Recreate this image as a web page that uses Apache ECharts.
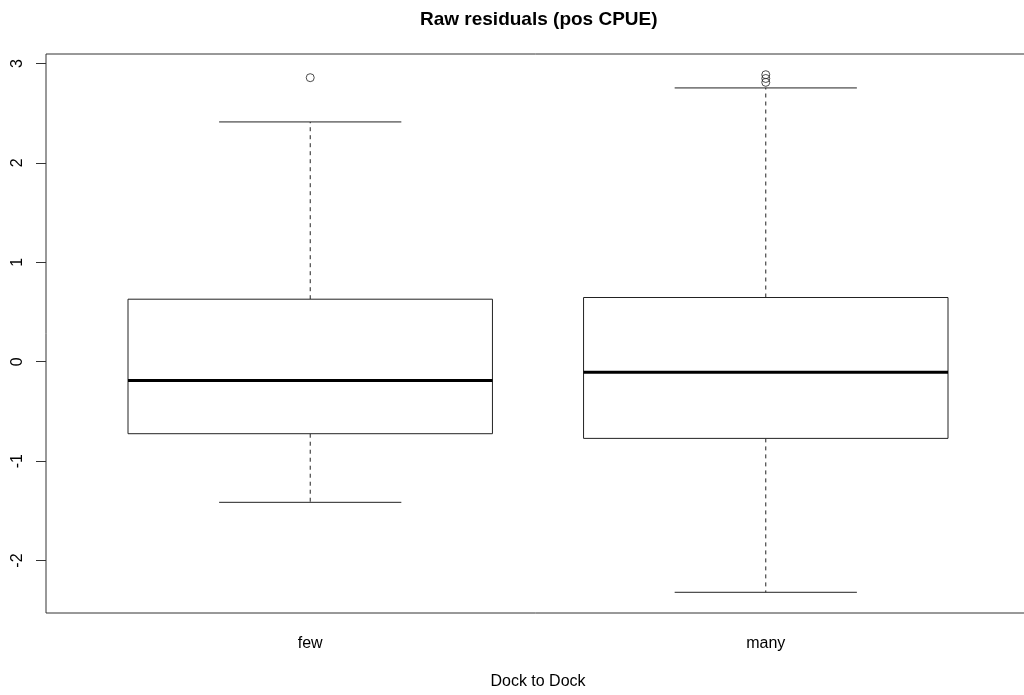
<!DOCTYPE html>
<html>
<head>
<meta charset="utf-8">
<script src="https://cdn.jsdelivr.net/npm/echarts@6/dist/echarts.min.js"></script>
<style>html,body{margin:0;padding:0;background:#fff}#c{width:1024px;height:695px}</style>
</head>
<body>
<div id="c"></div>
<script>
const categories = ['few', 'many'];
const lowerWhisker = [-1.414, -2.319];
const q1 = [-0.724, -0.771];
const median = [-0.188, -0.107];
const q3 = [0.629, 0.646];
const upperWhisker = [2.412, 2.754];
const outliersFew = [2.857];
const outliersMany = [2.887, 2.849, 2.81];
const yTicks = [-2, -1, 0, 1, 2, 3];

const outlierData = [];
outliersFew.forEach(v => outlierData.push([1, v]));
outliersMany.forEach(v => outlierData.push([2, v]));

const boxData = categories.map((c, i) => [i + 1, lowerWhisker[i], q1[i], median[i], q3[i], upperWhisker[i]]);

// R-style 4% axis extension
const allY = lowerWhisker.concat(upperWhisker, outlierData.map(d => d[1]));
const yMinD = Math.min(...allY), yMaxD = Math.max(...allY);
const yPad = (yMaxD - yMinD) * 0.04;
const xMinD = 0.5, xMaxD = categories.length + 0.5;
const xPad = (xMaxD - xMinD) * 0.04;

const FONT = 'Liberation Sans, Arial, sans-serif';
const chart = echarts.init(document.getElementById('c'));

function renderItem(params, api) {
  const x = api.value(0);
  const lw = api.coord([x, api.value(1)]);
  const b1 = api.coord([x, api.value(2)]);
  const md = api.coord([x, api.value(3)]);
  const b3 = api.coord([x, api.value(4)]);
  const uw = api.coord([x, api.value(5)]);
  const boxW = api.size([0.8, 0])[0];
  const capW = api.size([0.4, 0])[0];
  const cx = lw[0];
  const stroke = '#222';
  return {
    type: 'group',
    children: [
      { type: 'line', shape: { x1: cx, y1: b3[1], x2: cx, y2: uw[1] }, style: { stroke: stroke, lineWidth: 1, lineDash: [4, 4] } },
      { type: 'line', shape: { x1: cx, y1: b1[1], x2: cx, y2: lw[1] }, style: { stroke: stroke, lineWidth: 1, lineDash: [4, 4] } },
      { type: 'line', shape: { x1: cx - capW / 2, y1: uw[1], x2: cx + capW / 2, y2: uw[1] }, style: { stroke: stroke, lineWidth: 1 } },
      { type: 'line', shape: { x1: cx - capW / 2, y1: lw[1], x2: cx + capW / 2, y2: lw[1] }, style: { stroke: stroke, lineWidth: 1 } },
      { type: 'rect', shape: { x: cx - boxW / 2, y: b3[1], width: boxW, height: b1[1] - b3[1] }, style: { fill: '#fff', stroke: stroke, lineWidth: 1 } },
      { type: 'line', shape: { x1: cx - boxW / 2, y1: md[1], x2: cx + boxW / 2, y2: md[1] }, style: { stroke: '#000', lineWidth: 3 } }
    ]
  };
}

chart.setOption({
  animation: false,
  backgroundColor: '#fff',
  title: {
    text: 'Raw residuals (pos CPUE)',
    left: 415, top: 5,
    textStyle: { fontFamily: FONT, fontSize: 19, fontWeight: 'bold', color: '#000' }
  },
  grid: {
    left: 46, right: -6, top: 54, bottom: 82,
    outerBoundsMode: 'none', containLabel: false,
    show: true, borderColor: '#333', borderWidth: 1, backgroundColor: 'transparent'
  },
  xAxis: {
    type: 'value',
    min: xMinD - xPad, max: xMaxD + xPad,
    name: 'Dock to Dock', nameLocation: 'middle', nameGap: 61,
    nameTextStyle: { fontFamily: FONT, fontSize: 16, color: '#000' },
    splitLine: { show: false },
    axisLine: { show: false },
    axisTick: { show: true, length: 9, lineStyle: { color: '#333' }, customValues: categories.map((c, i) => i + 1) },
    axisLabel: {
      show: true, margin: 23, fontFamily: FONT, fontSize: 16, color: '#000',
      customValues: categories.map((c, i) => i + 1),
      formatter: v => categories[Math.round(v) - 1] || ''
    }
  },
  yAxis: {
    type: 'value',
    min: yMinD - yPad, max: yMaxD + yPad,
    splitLine: { show: false },
    axisLine: { show: false },
    axisTick: { show: true, length: 10, lineStyle: { color: '#333' }, customValues: yTicks },
    axisLabel: {
      show: true, margin: 20, rotate: 90, fontFamily: FONT, fontSize: 16, color: '#000',
      customValues: yTicks, formatter: v => String(v)
    }
  },
  series: [
    {
      type: 'custom',
      renderItem: renderItem,
      encode: { x: 0, y: [1, 2, 3, 4, 5] },
      data: boxData,
      z: 2
    },
    {
      type: 'scatter',
      data: outlierData,
      symbol: 'circle',
      symbolSize: 8,
      itemStyle: { color: 'rgba(0,0,0,0)', borderColor: '#222', borderWidth: 1 },
      z: 3
    }
  ]
});
</script>
</body>
</html>
